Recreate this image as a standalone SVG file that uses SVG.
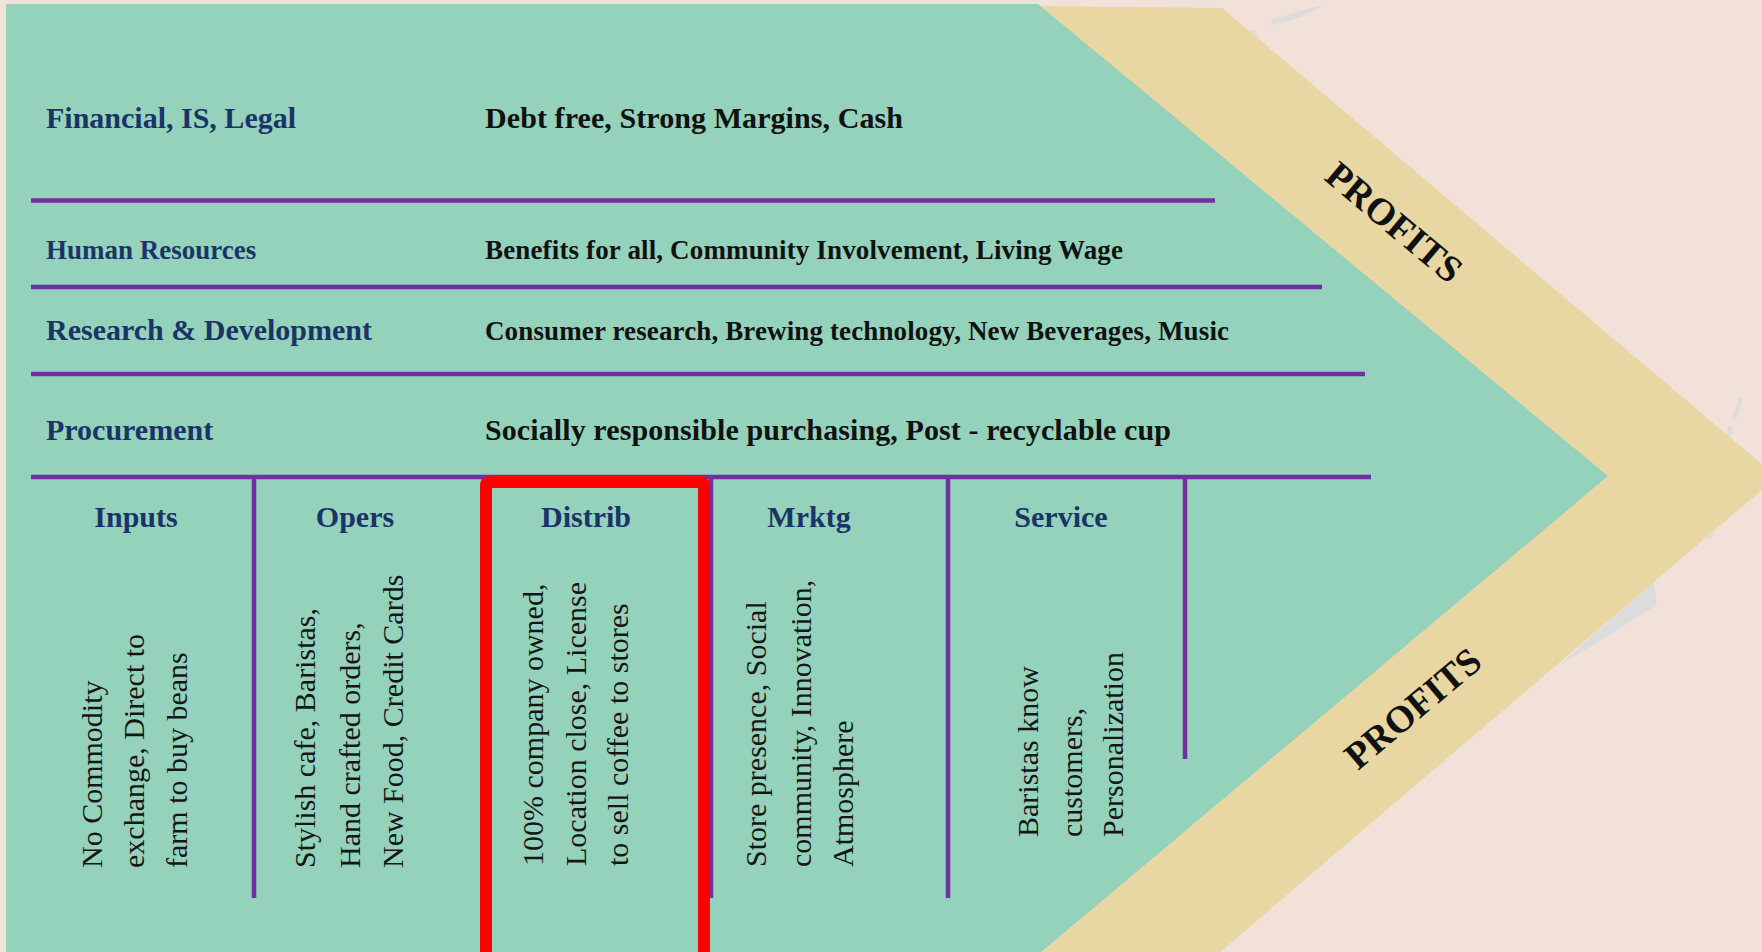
<svg xmlns="http://www.w3.org/2000/svg" width="1762" height="952" viewBox="0 0 1762 952">
  <style>
    .hdr { font-family: "Liberation Serif", "Times New Roman", serif; font-weight: bold; font-size: 30px; fill: #1b3468; }
    .hdrs { font-family: "Liberation Serif", "Times New Roman", serif; font-weight: bold; font-size: 27px; fill: #1b3468; }
    .val { font-family: "Liberation Serif", "Times New Roman", serif; font-weight: bold; font-size: 30px; fill: #111111; }
    .vals { font-family: "Liberation Serif", "Times New Roman", serif; font-weight: bold; font-size: 27px; fill: #111111; }
    .col { font-family: "Liberation Serif", "Times New Roman", serif; font-weight: bold; font-size: 30px; fill: #1b3468; text-anchor: middle; }
    .vt { font-family: "Liberation Serif", "Times New Roman", serif; font-size: 30px; fill: #161616; }
    .profit { font-family: "Liberation Serif", "Times New Roman", serif; font-weight: bold; font-size: 38px; fill: #111111; text-anchor: middle; }
    .div { stroke: #7030a0; stroke-width: 4.5; fill: none; }
    .smudge { fill: #dcdcdc; }
  </style>

  <!-- background -->
  <rect id="background" x="0" y="0" width="1762" height="952" fill="#f2e1d9"/>

  <g id="smudges">
    <polygon class="smudge" points="1270,26 1273,19 1326,4 1302,17"/>
    <polygon class="smudge" points="1249,29 1256,31 1258,37 1251,36"/>
    <polygon class="smudge" points="1739,397 1743,399 1736,420 1732,418"/>
    <ellipse class="smudge" cx="1730" cy="431" rx="3" ry="6"/>
    <polygon class="smudge" points="1708,531 1713,531 1712,539 1707,538"/>
    <polygon class="smudge" points="1558,666 1654,582 1657,605 1580,653"/>
  </g>

  <!-- profits chevron -->
  <g id="profits-band">
    <polygon points="1030,6 1222,8 1777,477 1220,952 1020,952" fill="#e8d6a3"/>
  </g>

  <!-- main body -->
  <g id="value-chain-body">
    <polygon points="6,4 1038,4 1608,476 1041,952 6,952" fill="#95d2bc"/>
  </g>

  <g id="profits-top">
    <text class="profit" transform="translate(1386,232) rotate(40)">PROFITS</text>
  </g>
  <g id="profits-bottom">
    <text class="profit" transform="translate(1421,718) rotate(-40)">PROFITS</text>
  </g>

  <!-- dividers -->
  <g id="connectors">
    <line class="div" x1="31" y1="200.5" x2="1215" y2="200.5"/>
    <line class="div" x1="31" y1="287" x2="1322" y2="287"/>
    <line class="div" x1="31" y1="374" x2="1365" y2="374"/>
    <line class="div" x1="31" y1="477" x2="1371" y2="477"/>
    <line class="div" x1="254" y1="477" x2="254" y2="898"/>
    <line class="div" x1="484" y1="477" x2="484" y2="898"/>
    <line class="div" x1="711" y1="477" x2="711" y2="898"/>
    <line class="div" x1="948" y1="477" x2="948" y2="898"/>
    <line class="div" x1="1185" y1="477" x2="1185" y2="759"/>
  </g>

  <!-- support activities -->
  <g id="row-financial">
    <text class="hdr" x="46" y="128">Financial, IS, Legal</text>
    <text class="val" x="485" y="128" textLength="418">Debt free, Strong Margins, Cash</text>
  </g>
  <g id="row-hr">
    <text class="hdrs" x="46" y="259">Human Resources</text>
    <text class="vals" x="485" y="259" textLength="638">Benefits for all, Community Involvement, Living Wage</text>
  </g>
  <g id="row-rd">
    <text class="hdr" x="46" y="340">Research &amp; Development</text>
    <text class="vals" x="485" y="340" textLength="744">Consumer research, Brewing technology, New Beverages, Music</text>
  </g>
  <g id="row-procurement">
    <text class="hdr" x="46" y="440">Procurement</text>
    <text class="val" x="485" y="440" textLength="686">Socially responsible purchasing, Post - recyclable cup</text>
  </g>

  <!-- primary activities -->
  <g id="col-inputs">
    <text class="col" x="136" y="527">Inputs</text>
    <text class="vt" transform="translate(102,868) rotate(-90)">No Commodity</text>
    <text class="vt" transform="translate(144,868) rotate(-90)">exchange, Direct to</text>
    <text class="vt" transform="translate(187,868) rotate(-90)">farm to buy beans</text>
  </g>
  <g id="col-opers">
    <text class="col" x="355" y="527">Opers</text>
    <text class="vt" transform="translate(315,868) rotate(-90)">Stylish cafe, Baristas,</text>
    <text class="vt" transform="translate(360,868) rotate(-90)">Hand crafted orders,</text>
    <text class="vt" transform="translate(403,868) rotate(-90)">New Food, Credit Cards</text>
  </g>
  <g id="col-distrib">
    <text class="col" x="586" y="527">Distrib</text>
    <text class="vt" transform="translate(543,866) rotate(-90)">100% company owned,</text>
    <text class="vt" transform="translate(586,866) rotate(-90)">Location close, License</text>
    <text class="vt" transform="translate(628,866) rotate(-90)">to sell coffee to stores</text>
  </g>
  <g id="col-mrktg">
    <text class="col" x="809" y="527">Mrktg</text>
    <text class="vt" transform="translate(766,867) rotate(-90)">Store presence, Social</text>
    <text class="vt" transform="translate(811,867) rotate(-90)">community, Innovation,</text>
    <text class="vt" transform="translate(853,867) rotate(-90)">Atmosphere</text>
  </g>
  <g id="col-service">
    <text class="col" x="1061" y="527">Service</text>
    <text class="vt" transform="translate(1038,837) rotate(-90)">Baristas know</text>
    <text class="vt" transform="translate(1082,837) rotate(-90)">customers,</text>
    <text class="vt" transform="translate(1123,837) rotate(-90)">Personalization</text>
  </g>

  <!-- highlight -->
  <g id="highlight">
    <rect x="486" y="482" width="218" height="480" rx="3" fill="none" stroke="#ff0000" stroke-width="12"/>
  </g>
</svg>
